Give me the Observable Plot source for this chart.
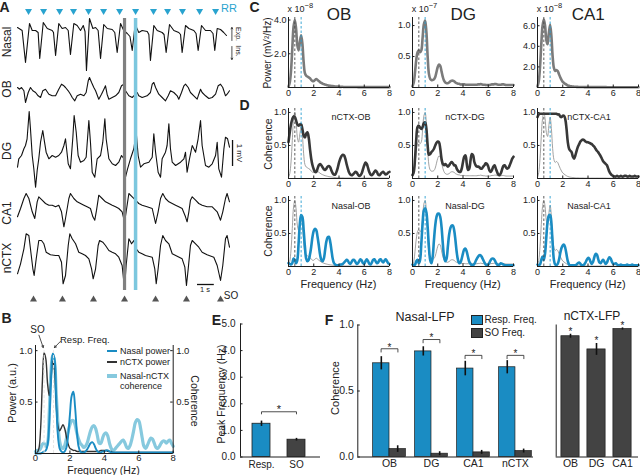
<!DOCTYPE html>
<html><head><meta charset="utf-8">
<script src="https://cdn.jsdelivr.net/npm/d3@7"></script>
<script src="https://cdn.jsdelivr.net/npm/@observablehq/plot@0.6"></script>
<style>
body{margin:0;background:#fff;}
#root{position:relative;width:640px;height:475px;overflow:hidden;background:#fff;font-family:'Liberation Sans',Arial,sans-serif;}
.lbl{position:absolute;white-space:nowrap;line-height:1;color:#222;}
</style></head><body><div id="root"></div>
<script>
// ---------- Panel A: raw traces, [time (s), deflection (a.u.)] ----------
const nasalTrace = [[0,3],[0.29,0],[0.5,-32],[0.75,7],[0.92,0],[1.13,0],[1.29,-2],[1.39,-28],[1.61,8],[1.86,2],[2.17,0],[2.25,-2],[2.38,-25],[2.58,7],[2.79,2],[3.0,3],[3.17,0],[3.31,-24],[3.52,7],[3.73,5],[3.94,0],[4.11,5],[4.22,-1],[4.31,-40],[4.5,12],[4.71,2],[4.88,3],[5.04,0],[5.19,-28],[5.39,6],[5.61,2],[5.92,1],[6.08,-2],[6.23,-22],[6.44,7],[6.64,0],[6.86,-3],[7.03,-6],[7.17,-20],[7.31,0],[7.44,3],[7.58,-2],[7.79,0],[8.11,-1],[8.21,-4],[8.31,-30],[8.52,5],[8.73,0],[9.04,-2],[9.16,-4],[9.29,-22],[9.5,6],[9.77,0],[10.08,-2],[10.19,-4],[10.29,-22],[10.5,5],[10.71,2],[11.02,0],[11.16,-3],[11.29,-20],[11.5,5],[11.75,0],[12.06,0],[12.22,-3],[12.33,-20],[12.48,2],[12.69,1],[12.89,-2],[13.06,-5]];
const obTrace = [[0,5],[0.13,3.3],[0.25,5],[0.4,1.7],[0.5,-10],[0.67,0],[0.81,5],[0.96,1.7],[1.13,0],[1.29,-3.3],[1.44,-5],[1.58,1.7],[1.75,3.3],[1.96,-1.7],[2.17,-3.3],[2.38,-3.3],[2.58,3.3],[2.75,8.3],[2.9,6.7],[3.0,5],[3.17,1.7],[3.31,-1.7],[3.42,-5],[3.58,-8.3],[3.73,-3.3],[3.94,-1.7],[4.15,-3.3],[4.29,0],[4.42,11.7],[4.5,15],[4.63,10],[4.77,5],[4.88,1.7],[5.08,-6.7],[5.25,-1.7],[5.4,3.3],[5.5,6.7],[5.6,-1.7],[5.71,-6.7],[5.92,-5],[6.13,-3.3],[6.33,0],[6.5,6.7],[6.65,8.3],[6.75,1.7],[6.96,-3.3],[7.17,-5],[7.38,-1.7],[7.48,0],[7.58,-3.3],[7.79,-5],[8.1,-3.3],[8.31,0],[8.42,8.3],[8.52,10],[8.63,5],[8.83,-1.7],[9.04,-5],[9.25,-8.3],[9.42,-3.3],[9.56,1.7],[9.77,0],[9.98,-3.3],[10.08,-6.7],[10.25,0],[10.4,6.7],[10.5,8.3],[10.67,5],[10.81,0],[11.02,-3.3],[11.23,-6.7],[11.33,-1.7],[11.44,3.3],[11.54,0],[11.75,-3.3],[11.96,-6],[12.17,-5],[12.38,-1.7],[12.54,6.7],[12.69,8.3],[12.83,5],[13.0,-3.3],[13.1,-1.7],[13.25,1.7]];
const dgTrace = [[0,-11.7],[0.08,-3.3],[0.25,0],[0.4,6.7],[0.5,10],[0.6,16.7],[0.73,44],[0.81,26.7],[0.92,0],[1.02,-13.3],[1.13,-31.7],[1.23,-15],[1.33,-3.3],[1.44,13.3],[1.58,25],[1.69,13.3],[1.79,3.3],[1.96,-3.3],[2.17,0],[2.38,-1.7],[2.58,0],[2.75,3.3],[2.9,10],[3.0,16.7],[3.17,-8.3],[3.31,-13.3],[3.46,18.3],[3.54,40],[3.67,23.3],[3.79,0],[3.94,-6.7],[4.15,-5],[4.29,-1.7],[4.46,35],[4.56,13.3],[4.67,-16.7],[4.83,-21.7],[4.98,-3.3],[5.19,0],[5.33,13.3],[5.46,36.7],[5.54,16.7],[5.71,-3.3],[5.92,-8.3],[6.13,-10],[6.33,-6.7],[6.5,0],[6.65,-3.3],[6.75,-21.7],[6.88,-13.3],[7.06,-3.3],[7.27,6.7],[7.42,23.3],[7.54,0],[7.69,-11.7],[7.9,-8.3],[8.21,-6.7],[8.42,-1.7],[8.52,21.7],[8.63,3.3],[8.79,-16.7],[8.94,-21.7],[9.04,-3.3],[9.25,3.3],[9.35,10],[9.46,31.7],[9.56,6.7],[9.67,-6.7],[9.88,-10],[10.19,-6.7],[10.4,-3.3],[10.5,3.3],[10.6,-16.7],[10.75,-3.3],[10.92,10],[11.13,3.3],[11.29,16.7],[11.44,35],[11.54,10],[11.75,-10],[11.96,-11.7],[12.17,-8.3],[12.38,0],[12.48,13.3],[12.58,-13.3],[12.75,-21.7],[12.9,6.7],[13.0,18.3],[13.13,16.7],[13.25,8.3]];
const ca1Trace = [[0,-8.3],[0.19,0],[0.4,10],[0.54,15],[0.71,10],[0.92,-3.3],[1.08,-10],[1.23,6.7],[1.33,11.7],[1.54,8.3],[1.75,5],[1.96,3.3],[2.17,3.3],[2.38,1.7],[2.58,3.3],[2.75,-3.3],[2.9,-18.3],[3.0,-10],[3.21,10],[3.31,15],[3.52,10],[3.73,6.7],[3.94,5],[4.15,3.3],[4.35,1.7],[4.56,0],[4.71,-8.3],[4.83,-11.7],[4.94,-1.7],[5.08,13.3],[5.29,10],[5.5,6.7],[5.71,5],[5.92,3.3],[6.13,1.7],[6.33,0],[6.54,-3.3],[6.69,-13.3],[6.79,-3.3],[6.96,15],[7.17,11.7],[7.38,8.3],[7.58,5],[7.79,3.3],[8.1,1.7],[8.42,0],[8.63,-15],[8.79,-3.3],[8.94,10],[9.08,15],[9.25,10],[9.46,6.7],[9.67,5],[9.88,3.3],[10.08,1.7],[10.29,0],[10.5,-8.3],[10.6,-13.3],[10.71,-3.3],[10.81,8.3],[10.92,11.7],[11.13,8.3],[11.33,5],[11.54,3.3],[11.85,1.7],[12.17,1.7],[12.48,-3.3],[12.69,-11.7],[12.83,-3.3],[13.0,10],[13.1,15],[13.25,6.7]];
const nctxTrace = [[0,-18.3],[0.19,-8.3],[0.4,6.7],[0.54,21.7],[0.71,20],[0.81,6.7],[0.96,-13.3],[1.04,-20],[1.17,-3.3],[1.33,15],[1.5,15],[1.65,11.7],[1.79,3.3],[2.06,0.7],[2.38,0],[2.58,0],[2.75,-6.7],[2.85,-28.3],[3.0,-20],[3.17,10],[3.27,21.7],[3.42,16.7],[3.63,11.7],[3.83,3.3],[4.04,1.7],[4.25,0],[4.46,-3.3],[4.63,-13.3],[4.73,-23.3],[4.88,-13.3],[5.04,10],[5.13,15],[5.33,13.3],[5.5,10],[5.71,5],[5.92,3.3],[6.13,1.7],[6.33,-1.7],[6.54,-10],[6.69,-33.3],[6.79,-10],[6.96,16.7],[7.13,11.7],[7.27,15],[7.42,6.7],[7.58,3.3],[7.79,1.7],[8.0,0],[8.42,-1.7],[8.58,-13.3],[8.67,-28.3],[8.79,-13.3],[8.94,10],[9.08,20],[9.25,15],[9.46,11.7],[9.67,1.7],[9.98,-0.7],[10.29,-3.3],[10.46,-11.7],[10.56,-30],[10.67,-13.3],[10.81,10],[10.92,15],[11.13,11.7],[11.33,8.3],[11.54,3.3],[11.85,0.7],[12.27,-1.7],[12.48,-10],[12.69,-25],[12.83,-10],[13.0,16.7],[13.1,20],[13.25,8.3]];
const rrTimes = [0.69,1.63,2.63,3.5,4.44,5.38,6.38,7.38,8.5,9.38,10.31,11.38,12.38];
const soTimes = [1.0,2.81,4.75,6.69,8.63,10.56,12.69];
const highlightTimes = [6.69, 7.38]; // SO trough (gray), respiration (cyan)

// ---------- Panel B: spectra, 0..8 Hz in 0.1 Hz steps ----------
const bNasalPower = [0,0,0,0,0.01,0.02,0.03,0.08,0.3,0.7, 0.97,0.93,0.55,0.18,0.05,0.02,0.01,0.02,0.06,0.18, 0.38,0.56,0.6,0.45,0.22,0.07,0.02,0.01,0.01,0.02, 0.04,0.07,0.1,0.11,0.09,0.05,0.02,0.01,0.01,0.02, 0.02,0.03,0.03,0.02,0.01,0.01,0.01,0.01,0.01,0.01, 0.01,0.01,0.01,0.01,0.01,0.01,0.01,0.01,0.01,0.01, 0.01,0.01,0.01,0.01,0.01,0.01,0.01,0.01,0.01,0.01, 0.01,0.01,0.01,0.01,0.01,0.01,0.01,0.01,0.01,0.01, 0.01];
const bNctxPower = [0,0.01,0.05,0.25,0.7,0.98,0.92,0.68,0.56,0.72, 0.9,0.82,0.5,0.27,0.22,0.25,0.28,0.24,0.16,0.09, 0.05,0.04,0.03,0.03,0.02,0.02,0.02,0.02,0.02,0.02, 0.02,0.02,0.02,0.02,0.02,0.02,0.02,0.02,0.03,0.03, 0.03,0.03,0.02,0.02,0.02,0.01,0.01,0.01,0.01,0.01, 0.01,0.01,0.01,0.01,0.01,0.01,0.01,0.01,0.01,0.01, 0.01,0.01,0.01,0.01,0.01,0.01,0.01,0.01,0.01,0.01, 0.01,0.01,0.01,0.01,0.01,0.01,0.01,0.01,0.01,0.01, 0.01];
const bCoherence = [0.02,0.03,0.03,0.05,0.09,0.1,0.07,0.1,0.4,0.8, 0.95,0.9,0.6,0.3,0.12,0.06,0.05,0.08,0.15,0.22, 0.28,0.32,0.32,0.28,0.2,0.14,0.1,0.08,0.06,0.07, 0.1,0.16,0.22,0.26,0.27,0.24,0.17,0.1,0.1,0.15, 0.19,0.2,0.17,0.1,0.05,0.03,0.04,0.06,0.08,0.1, 0.12,0.13,0.1,0.06,0.05,0.08,0.14,0.22,0.3,0.33, 0.32,0.25,0.15,0.07,0.05,0.08,0.12,0.15,0.14,0.1, 0.06,0.05,0.07,0.1,0.12,0.12,0.1,0.12,0.13,0.1, 0.07];
const peakFreqs = [0.5, 1.05];

// ---------- Panel C: power spectra (OB x1e-8, DG x1e-7, CA1 x1e-8) ----------
const powerOB = [0.05,0.3,1.0,2.3,3.6,4.0,3.5,2.5,2.2,2.7, 3.1,2.6,1.5,0.85,0.7,0.65,0.6,0.55,0.45,0.38, 0.38,0.45,0.5,0.45,0.38,0.32,0.27,0.23,0.2,0.17, 0.15,0.13,0.11,0.1,0.09,0.08,0.07,0.06,0.05,0.05, 0.04,0.04,0.04,0.04,0.03,0.03,0.03,0.03,0.03,0.03, 0.03,0.03,0.03,0.03,0.03,0.02,0.02,0.02,0.02,0.02, 0.02,0.02,0.02,0.02,0.02,0.02,0.02,0.02,0.02,0.02, 0.02,0.02,0.02,0.02,0.02,0.02,0.02,0.02,0.02,0.02, 0.02];
const powerDG = [0.02,0.08,0.25,0.45,0.57,0.6,0.57,0.6,0.8,1.02, 1.08,0.9,0.5,0.22,0.14,0.12,0.12,0.13,0.17,0.25, 0.33,0.37,0.35,0.26,0.17,0.11,0.08,0.07,0.07,0.08, 0.1,0.11,0.11,0.1,0.08,0.07,0.06,0.06,0.05,0.05, 0.05,0.05,0.045,0.045,0.045,0.045,0.045,0.045,0.045,0.045, 0.045,0.045,0.05,0.05,0.055,0.05,0.045,0.045,0.04,0.04, 0.04,0.04,0.045,0.05,0.05,0.055,0.055,0.05,0.045,0.045, 0.045,0.05,0.05,0.045,0.04,0.04,0.04,0.04,0.04,0.04, 0.04];
const powerCA1 = [0.1,0.6,2.0,4.2,6.0,6.6,6.0,4.6,4.2,5.3, 6.1,5.0,3.0,1.9,1.6,1.7,1.6,1.3,1.0,0.75, 0.55,0.45,0.35,0.27,0.2,0.16,0.13,0.11,0.09,0.08, 0.07,0.06,0.06,0.05,0.05,0.05,0.05,0.04,0.04,0.04, 0.04,0.04,0.04,0.04,0.04,0.04,0.04,0.04,0.04,0.04, 0.04,0.04,0.04,0.04,0.04,0.03,0.03,0.03,0.03,0.03, 0.03,0.03,0.03,0.03,0.03,0.03,0.03,0.03,0.03,0.03, 0.03,0.03,0.03,0.03,0.03,0.03,0.03,0.03,0.03,0.03, 0.03];

// ---------- Panel D: coherence spectra ----------
const cohNctxOB = [0.55,0.7,0.82,0.9,0.94,0.93,0.88,0.82,0.8,0.82, 0.82,0.75,0.65,0.62,0.68,0.7,0.62,0.45,0.3,0.2, 0.14,0.1,0.1,0.15,0.2,0.22,0.2,0.17,0.14,0.13, 0.15,0.18,0.19,0.17,0.12,0.08,0.06,0.06,0.1,0.16, 0.24,0.3,0.34,0.36,0.35,0.3,0.22,0.15,0.09,0.06, 0.05,0.06,0.08,0.1,0.09,0.06,0.04,0.05,0.08,0.14, 0.2,0.24,0.22,0.16,0.1,0.06,0.05,0.07,0.1,0.12, 0.1,0.06,0.05,0.07,0.09,0.1,0.08,0.06,0.07,0.09, 0.1];
const cohNctxDG = [0.05,0.1,0.3,0.6,0.78,0.8,0.77,0.75,0.78,0.84, 0.85,0.75,0.5,0.36,0.37,0.4,0.42,0.45,0.5,0.54, 0.56,0.55,0.45,0.3,0.22,0.2,0.22,0.2,0.18,0.2, 0.23,0.25,0.23,0.2,0.2,0.15,0.12,0.1,0.1,0.15, 0.25,0.33,0.35,0.22,0.13,0.15,0.28,0.37,0.35,0.25, 0.2,0.18,0.18,0.17,0.15,0.15,0.18,0.2,0.23,0.22, 0.18,0.12,0.1,0.13,0.18,0.2,0.15,0.1,0.06,0.05, 0.08,0.14,0.19,0.2,0.17,0.15,0.16,0.2,0.25,0.3, 0.33];
const cohNctxCA1 = [0.93,0.97,0.98,0.98,0.98,0.98,0.98,0.98,0.98,0.98, 0.98,0.98,0.98,0.98,0.98,0.98,0.97,0.97,0.94,0.93, 0.95,0.95,0.9,0.75,0.55,0.45,0.42,0.4,0.33,0.3, 0.35,0.42,0.48,0.52,0.56,0.58,0.59,0.58,0.56,0.55, 0.55,0.54,0.53,0.52,0.5,0.48,0.45,0.42,0.4,0.37, 0.34,0.3,0.26,0.24,0.22,0.2,0.15,0.1,0.07,0.05, 0.04,0.03,0.03,0.04,0.03,0.03,0.04,0.03,0.03,0.04, 0.04,0.03,0.03,0.04,0.03,0.03,0.03,0.04,0.03,0.03, 0.03];
const cohNasalOB = [0.05,0.04,0.03,0.05,0.12,0.1,0.05,0.1,0.35,0.65, 0.78,0.75,0.55,0.3,0.12,0.08,0.1,0.18,0.3,0.45, 0.54,0.57,0.55,0.45,0.32,0.18,0.1,0.08,0.12,0.25, 0.38,0.44,0.45,0.38,0.25,0.12,0.05,0.03,0.02,0.02, 0.02,0.03,0.03,0.04,0.06,0.08,0.1,0.09,0.05,0.04, 0.07,0.1,0.1,0.07,0.04,0.05,0.08,0.11,0.09,0.05, 0.04,0.08,0.11,0.08,0.04,0.03,0.06,0.1,0.11,0.08, 0.05,0.06,0.1,0.11,0.08,0.06,0.09,0.11,0.08,0.05, 0.04];
const cohNasalDG = [0.03,0.02,0.03,0.08,0.1,0.05,0.1,0.35,0.65,0.85, 0.88,0.82,0.6,0.3,0.1,0.05,0.15,0.4,0.62,0.75, 0.8,0.8,0.75,0.6,0.35,0.15,0.08,0.12,0.3,0.48, 0.58,0.62,0.62,0.55,0.4,0.22,0.1,0.05,0.06,0.12, 0.2,0.26,0.27,0.22,0.14,0.07,0.04,0.02,0.02,0.04, 0.08,0.12,0.15,0.17,0.17,0.14,0.1,0.06,0.03,0.02, 0.03,0.06,0.1,0.12,0.12,0.1,0.06,0.03,0.02,0.03, 0.05,0.04,0.03,0.02,0.02,0.02,0.02,0.02,0.02,0.02, 0.02];
const cohNasalCA1 = [0.03,0.02,0.03,0.1,0.15,0.1,0.2,0.45,0.68,0.77, 0.78,0.65,0.35,0.1,0.03,0.02,0.04,0.1,0.2,0.28, 0.32,0.33,0.28,0.18,0.08,0.03,0.02,0.02,0.02,0.02, 0.02,0.03,0.05,0.06,0.04,0.02,0.02,0.03,0.06,0.1, 0.13,0.12,0.07,0.04,0.07,0.14,0.19,0.18,0.12,0.06, 0.05,0.08,0.1,0.07,0.04,0.06,0.11,0.14,0.12,0.07, 0.04,0.04,0.05,0.03,0.02,0.02,0.03,0.02,0.02,0.02, 0.02,0.03,0.02,0.02,0.02,0.03,0.02,0.02,0.02,0.02, 0.02];
const soFreq = 0.5, respFreq = 1.0;

// ---------- Panel E ----------
const eCats = ["Resp.", "SO"];
const eVals = [1.25, 0.65];
const eErr = [0.1, 0.05];
const eBracket = 1.7;

// ---------- Panel F ----------
const fGroups = ["OB", "DG", "CA1", "nCTX"];
const fResp = [0.71, 0.80, 0.67, 0.68];
const fRespErr = [0.05, 0.035, 0.055, 0.05];
const fSO = [0.06, 0.025, 0.035, 0.045];
const fSOErr = [0.025, 0.015, 0.015, 0.015];
const fBracket = [0.82, 0.89, 0.77, 0.77];
const nGroups = ["OB", "DG", "CA1"];
const nVals = [0.915, 0.815, 0.97];
const nErr = [0.015, 0.045, 0.008];

// ---------- helpers ----------
const FONT = "'Liberation Sans', Arial, sans-serif";
const BLUE = "#1a8cc3", DARK = "#434343", LIGHTBLUE = "#86c9de", INK = "#1e1e1e";
const root = document.getElementById("root");
const st = fs => ({fontFamily: FONT, fontSize: fs + "px", color: "#222", background: "transparent", overflow: "visible"});
function put(el, left, top) { el.style.position = "absolute"; el.style.left = left + "px"; el.style.top = top + "px"; root.appendChild(el); return el; }
function label(html, x, y, o = {}) {
  const d = document.createElement("div");
  d.className = "lbl";
  d.innerHTML = html;
  d.style.left = x + "px"; d.style.top = y + "px";
  d.style.fontSize = (o.size || 11) + "px";
  d.style.fontWeight = o.bold ? "bold" : "normal";
  if (o.color) d.style.color = o.color;
  const ax = o.anchor === "start" ? "0" : "-50%";
  d.style.transform = "translate(" + ax + ",-50%)" + (o.rot ? " rotate(" + o.rot + "deg)" : "");
  root.appendChild(d);
}
function box(x, y, w, h, color, border) {
  const d = document.createElement("div");
  d.style.cssText = `position:absolute;left:${x}px;top:${y}px;width:${w}px;height:${h}px;background:${color};box-sizing:border-box;${border ? "border:0.8px solid #222;" : ""}`;
  root.appendChild(d);
}
const freqs = d3.range(81).map(i => i / 10);
const series = arr => arr.map((v, i) => ({f: freqs[i], v}));
const norm = arr => { const m = d3.max(arr); return arr.map(v => v / m); };
const xTicks = [0, 2, 4, 6, 8];

// ---------- Panel A ----------
const traceDefs = [[nasalTrace, 30], [obTrace, 92], [dgTrace, 155], [ca1Trace, 208], [nctxTrace, 255]];
put(Plot.plot({
  width: 245, height: 305, marginLeft: 17, marginRight: 15, marginTop: 0, marginBottom: 0,
  x: {domain: [0, 13.3125], axis: null}, y: {domain: [-305, 0], axis: null},
  style: st(9),
  marks: [
    ...traceDefs.map(([data, base]) => Plot.line(data, {x: d => d[0], y: d => d[1] - base, stroke: "#111", strokeWidth: 1.1, strokeLinejoin: "round"})),
    Plot.ruleX([highlightTimes[0]], {y1: -18, y2: -290, stroke: "#808080", strokeWidth: 3.2}),
    Plot.ruleX([highlightTimes[1]], {y1: -18, y2: -290, stroke: "#7cc7de", strokeWidth: 3.5}),
    Plot.dot(rrTimes, {x: d => d, y: -10.5, symbol: "triangle", r: 2.6, fill: "#29a3cf", rotate: 180}),
    Plot.dot(soTimes, {x: d => d, y: -299, symbol: "triangle", r: 2.6, fill: "#555"}),
    Plot.ruleY([-284], {x1: 11.25, x2: 12.3, stroke: "#111", strokeWidth: 1.3}),
    Plot.ruleX([13.44], {y1: -140, y2: -166, stroke: "#111", strokeWidth: 1.3}),
    Plot.arrow([0], {x1: 13.4, y1: -40, x2: 13.4, y2: -27, headLength: 3, strokeWidth: 0.8, stroke: "#222"}),
    Plot.arrow([0], {x1: 13.4, y1: -46, x2: 13.4, y2: -59, headLength: 3, strokeWidth: 0.8, stroke: "#222"})
  ]
}), 0, 0);
label("A", 4.5, 7, {size: 14, bold: true});
[["Nasal", 42], ["OB", 89], ["DG", 151], ["CA1", 213], ["nCTX", 258]].forEach(([t, y]) => label(t, 6.5, y, {size: 12, rot: -90}));
label("RR", 229, 8, {size: 11, color: "#29a3cf"});
label("Exp.", 237.5, 34, {size: 7, rot: 90});
label("Ins.", 237.5, 51, {size: 7, rot: 90});
label("1 mV", 238.5, 153, {size: 8, rot: 90});
label("1 s", 205, 289.5, {size: 7.5});
label("SO", 231, 296, {size: 10});

// ---------- Panel B ----------
const bFH = 155 - 25 - 22, bFW = 200 - 35 - 27.3;
put(Plot.plot({
  width: 200, height: 155, marginLeft: 35, marginRight: 27.3, marginTop: 25, marginBottom: 22,
  x: {domain: [0, 8], label: null}, y: {domain: [0, 1.05], label: null},
  style: st(9.5),
  marks: [
    Plot.line(series(bCoherence), {x: "f", y: "v", stroke: LIGHTBLUE, strokeWidth: 3.2, curve: "catmull-rom"}),
    Plot.line(series(bNctxPower), {x: "f", y: "v", stroke: "#333", strokeWidth: 1.4, curve: "catmull-rom"}),
    Plot.line(series(bNasalPower), {x: "f", y: "v", stroke: BLUE, strokeWidth: 1.9, curve: "catmull-rom"}),
    Plot.ruleX(peakFreqs, {y1: 0, y2: 1, stroke: "#e6e6e6", strokeWidth: 1, strokeDasharray: "3,2"}),
    Plot.ruleY([0], {stroke: INK}), Plot.ruleX([0], {stroke: INK}), Plot.ruleX([8], {stroke: INK}),
    Plot.tickX(xTicks, {x: d => d, insetTop: bFH - 2.5, stroke: INK}),
    Plot.tickY([0.5, 1], {y: d => d, insetRight: bFW - 2.5, stroke: INK}),
    Plot.tickY([0.5, 1], {y: d => d, insetLeft: bFW - 2.5, stroke: INK}),
    Plot.axisX({ticks: xTicks, tickSize: 0, tickPadding: 0.5}),
    Plot.axisY({ticks: [0.5, 1], tickSize: 0, tickPadding: 3}),
    Plot.axisY({anchor: "right", ticks: [0.5, 1], tickSize: 0, tickPadding: 3}),
    Plot.arrow([0], {x1: 0.2, y1: 1.15, x2: 0.45, y2: 1.03, headLength: 4, strokeWidth: 0.8, stroke: "#222"}),
    Plot.arrow([0], {x1: 1.45, y1: 1.09, x2: 1.1, y2: 1.03, headLength: 4, strokeWidth: 0.8, stroke: "#222"})
  ]
}), 0, 320);
label("B", 6.5, 317.5, {size: 14, bold: true});
label("SO", 37.5, 330, {size: 10});
label("Resp. Freq.", 60, 339.5, {size: 9.5, anchor: "start"});
box(107, 350, 10, 2, BLUE); label("Nasal power", 120, 351, {size: 9, anchor: "start"});
box(107, 361, 10, 1.5, "#333"); label("nCTX power", 120, 361.7, {size: 9, anchor: "start"});
box(107, 374.2, 10, 3.5, LIGHTBLUE); label("Nasal-nCTX", 120, 375.7, {size: 9, anchor: "start"});
label("coherence", 120, 386, {size: 9, anchor: "start"});
label("Power (a.u.)", 12, 393, {size: 11, rot: -90});
label("Coherence", 195, 401, {size: 10.5, rot: 90});
label("Frequency (Hz)", 103.5, 470, {size: 10.5});

// ---------- Panels C & D ----------
function smallPanel(x0, top, height, mTop, yDomain, yTicks, dataMarks) {
  const mB = 13, fh = height - mTop - mB;
  put(Plot.plot({
    width: 127, height, marginLeft: 22, marginRight: 4, marginTop: mTop, marginBottom: mB,
    x: {domain: [0, 8], label: null}, y: {domain: yDomain, label: null},
    style: st(9),
    marks: [
      ...dataMarks,
      Plot.ruleX([soFreq], {stroke: "#4a4a4a", strokeWidth: 0.9, strokeDasharray: "2.5,2"}),
      Plot.ruleX([respFreq], {stroke: "#2a9fd0", strokeWidth: 0.9, strokeDasharray: "2.5,2"}),
      Plot.ruleY([0], {stroke: INK}), Plot.ruleX([0], {stroke: INK}),
      Plot.tickX(xTicks, {x: d => d, insetTop: fh - 2.5, stroke: INK}),
      Plot.tickY(yTicks, {y: d => d, insetRight: 101 - 2.5, stroke: INK}),
      Plot.axisX({ticks: xTicks, tickSize: 0, tickPadding: 2}),
      Plot.axisY({ticks: yTicks, tickSize: 0, tickPadding: 2})
    ]
  }), x0 - 22, top);
}
const cols = [
  {x0: 287.5, name: "OB", power: powerOB, pMax: 4.15, pTicks: [2, 4], exp: "−8", d1: cohNctxOB, d2: cohNasalOB, l1: "nCTX-OB", l2: "Nasal-OB", lx: 351},
  {x0: 411.7, name: "DG", power: powerDG, pMax: 1.13, pTicks: [0.5, 1], exp: "−7", d1: cohNctxDG, d2: cohNasalDG, l1: "nCTX-DG", l2: "Nasal-DG", lx: 465},
  {x0: 536.7, name: "CA1", power: powerCA1, pMax: 6.8, pTicks: [2, 4, 6], exp: "−8", d1: cohNctxCA1, d2: cohNasalCA1, l1: "nCTX-CA1", l2: "Nasal-CA1", lx: 589}
];
cols.forEach(c => {
  const thin = series(norm(c.power));
  smallPanel(c.x0, 0, 100, 17, [0, c.pMax], c.pTicks, [
    Plot.line(series(c.power), {x: "f", y: "v", stroke: "#7b7b7b", strokeWidth: 2.6, curve: "catmull-rom"})
  ]);
  smallPanel(c.x0, 100, 91, 8, [0, 1.06], [0.5, 1], [
    Plot.line(thin, {x: "f", y: "v", stroke: "#8a8a8a", strokeWidth: 0.8, curve: "catmull-rom"}),
    Plot.line(series(c.d1), {x: "f", y: "v", stroke: "#383838", strokeWidth: 2.6, curve: "catmull-rom"})
  ]);
  smallPanel(c.x0, 188, 91, 8, [0, 1.06], [0.5, 1], [
    Plot.line(thin, {x: "f", y: "v", stroke: "#8a8a8a", strokeWidth: 0.8, curve: "catmull-rom"}),
    Plot.line(series(c.d2), {x: "f", y: "v", stroke: BLUE, strokeWidth: 2.6, curve: "catmull-rom"})
  ]);
  label(c.name, c.x0 + 51.5, 13.5, {size: 17});
  label("x 10<span style=\"font-size:7.5px;position:relative;top:-4px\">" + c.exp + "</span>", c.x0, 8.5, {size: 9, anchor: "start"});
  label(c.l1, c.lx, 117, {size: 9});
  label(c.l2, c.lx, 206, {size: 9});
  label("Frequency (Hz)", c.x0 + 51, 284, {size: 11});
});
label("C", 254.5, 7, {size: 14, bold: true});
label("D", 244.5, 105, {size: 14, bold: true});
label("Power (mV²/Hz)", 267.5, 53, {size: 10, rot: -90});
label("Coherence", 267.5, 144, {size: 10.5, rot: -90});
label("Coherence", 267.5, 231, {size: 10.5, rot: -90});

// ---------- Panel E ----------
const eIdx = eVals.map((v, i) => i);
const eBr = [[0, eBracket - 0.08], [0, eBracket], [1, eBracket], [1, eBracket - 0.08]];
put(Plot.plot({
  width: 125, height: 175, marginLeft: 40, marginRight: 5, marginTop: 23.5, marginBottom: 18.5,
  x: {domain: [-0.6, 1.686], label: null}, y: {domain: [0, 5], label: null},
  style: st(10),
  marks: [
    Plot.rect([0], {x1: i => i - 0.257, x2: i => i + 0.257, y1: 0, y2: i => eVals[i], fill: BLUE, stroke: INK, strokeWidth: 0.8}),
    Plot.rect([1], {x1: i => i - 0.257, x2: i => i + 0.257, y1: 0, y2: i => eVals[i], fill: DARK, stroke: INK, strokeWidth: 0.8}),
    Plot.ruleX(eIdx, {x: i => i, y1: i => eVals[i] - eErr[i], y2: i => eVals[i] + eErr[i], stroke: "#111", strokeWidth: 1.6}),
    Plot.line(eBr, {x: d => d[0], y: d => d[1], stroke: "#222", strokeWidth: 0.8}),
    Plot.text(["*"], {x: 0.5, y: eBracket + 0.07, fontSize: 11}),
    Plot.ruleY([0], {stroke: INK}), Plot.ruleX([-0.6], {stroke: INK}),
    Plot.tickY([0, 1, 2, 3, 4, 5], {y: d => d, insetRight: 80 - 2.5, stroke: INK}),
    Plot.axisX({ticks: eIdx, tickFormat: i => eCats[i], tickSize: 0, tickPadding: 4}),
    Plot.axisY({ticks: [0, 1, 2, 3, 4, 5], tickSize: 0, tickPadding: 5})
  ]
}), 200, 300);
label("E", 216.5, 320, {size: 14, bold: true});
label("Peak Frequency (Hz)", 220.5, 394, {size: 10.5, rot: -90});

// ---------- Panel F ----------
const fIdx = fGroups.map((g, i) => i);
const fBrPts = fIdx.flatMap(i => [[i - 0.2, fBracket[i] - 0.025, i], [i - 0.2, fBracket[i], i], [i + 0.2, fBracket[i], i], [i + 0.2, fBracket[i] - 0.025, i]]);
put(Plot.plot({
  width: 210, height: 175, marginLeft: 27.3, marginRight: 7, marginTop: 24.5, marginBottom: 18.5,
  x: {domain: [-0.755, 3.43], label: null}, y: {domain: [0, 1], label: null},
  style: st(10.5),
  marks: [
    Plot.rect(fIdx, {x1: i => i - 0.39, x2: i => i, y1: 0, y2: i => fResp[i], fill: BLUE, stroke: INK, strokeWidth: 0.7}),
    Plot.rect(fIdx, {x1: i => i, x2: i => i + 0.39, y1: 0, y2: i => fSO[i], fill: DARK, stroke: INK, strokeWidth: 0.7}),
    Plot.ruleX(fIdx, {x: i => i - 0.195, y1: i => fResp[i] - fRespErr[i], y2: i => fResp[i] + fRespErr[i], stroke: "#111", strokeWidth: 1.6}),
    Plot.ruleX(fIdx, {x: i => i + 0.195, y1: i => fSO[i] - fSOErr[i], y2: i => fSO[i] + fSOErr[i], stroke: "#111", strokeWidth: 1.6}),
    Plot.line(fBrPts, {x: d => d[0], y: d => d[1], z: d => d[2], stroke: "#222", strokeWidth: 0.8}),
    Plot.text(fIdx, {x: i => i, y: i => fBracket[i] + 0.011, text: () => "*", fontSize: 10}),
    Plot.ruleY([0], {stroke: INK}), Plot.ruleX([-0.755], {stroke: INK}),
    Plot.tickY([0, 0.5, 1], {y: d => d, insetRight: 175.7 - 2.5, stroke: INK}),
    Plot.axisX({ticks: fIdx, tickFormat: i => fGroups[i], tickSize: 0, tickPadding: 3}),
    Plot.axisY({ticks: [0, 0.5, 1], tickSize: 0, tickPadding: 4})
  ]
}), 330, 300);
const nIdx = nGroups.map((g, i) => i);
put(Plot.plot({
  width: 95, height: 175, marginLeft: 10.7, marginRight: 2, marginTop: 24.5, marginBottom: 18.5,
  x: {domain: [-0.55, 2.615], label: null}, y: {domain: [0, 1], label: null},
  style: st(10.5),
  marks: [
    Plot.rect(nIdx, {x1: i => i - 0.35, x2: i => i + 0.35, y1: 0, y2: i => nVals[i], fill: DARK, stroke: INK, strokeWidth: 0.7}),
    Plot.ruleX(nIdx, {x: i => i, y1: i => nVals[i] - nErr[i], y2: i => nVals[i] + nErr[i], stroke: "#111", strokeWidth: 1.6}),
    Plot.text(nIdx, {x: i => i, y: i => nVals[i] + nErr[i] + 0.018, text: () => "*", fontSize: 10}),
    Plot.ruleY([0], {stroke: INK}), Plot.ruleX([-0.55], {stroke: INK}),
    Plot.axisX({ticks: nIdx, tickFormat: i => nGroups[i], tickSize: 0, tickPadding: 3}),
    Plot.axisY({ticks: [], tickSize: 0})
  ]
}), 545, 300);
label("F", 329, 320, {size: 14, bold: true});
label("Coherence", 335, 388, {size: 11, rot: -90});
label("Nasal-LFP", 425, 317, {size: 12.5});
label("nCTX-LFP", 592, 316, {size: 12});
box(471, 314.5, 12, 10, BLUE, true); label("Resp. Freq.", 484.5, 319.5, {size: 10, anchor: "start"});
box(471, 328, 12, 10, DARK, true); label("SO Freq.", 484.5, 333, {size: 10, anchor: "start"});
</script></body></html>
